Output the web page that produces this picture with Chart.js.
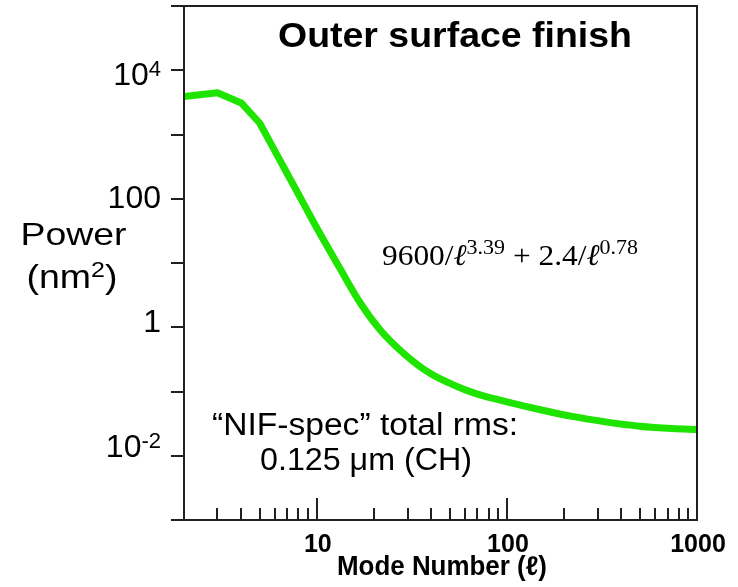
<!DOCTYPE html>
<html><head><meta charset="utf-8">
<script src="https://cdn.jsdelivr.net/npm/chart.js@4.4.1/dist/chart.umd.min.js"></script>
<style>html,body{margin:0;padding:0;background:#fff;}canvas{display:block;}</style>
</head><body>
<canvas id="c" width="738" height="587"></canvas>
<script>
// ---- data ----
const modes = [2, 3, 4, 5, 6, 7, 8, 9, 10, 13.4, 17, 21.6, 28.7, 39.6, 54.6, 70, 100, 150, 220, 330, 500, 740, 1000];
const power = [3900, 4470, 3100, 1510, 560, 243, 118, 62, 35, 7.7, 2.34, 0.90, 0.39, 0.19, 0.12, 0.091, 0.069, 0.052, 0.041, 0.0337, 0.0288, 0.0265, 0.0257];
const steepCount = 7; // first points joined by straight segments (l = 2 .. 8)
const yTickValues = [1e4, 100, 1, 1e-2];
const yTickBases = ['10', '100', '1', '10'];
const yTickExps = ['4', '', '', '-2'];
const xTickValues = [10, 100, 1000];
const xTickLabels = ['10', '100', '1000'];
const titleText = 'Outer surface finish';
const xTitleText = 'Mode Number (\u2113)';
const noteLines = ['\u201CNIF-spec\u201D total rms:', '0.125 \u03BCm (CH)'];

// ---- layout/style ----
const AXIS = '#231f20';
const GREEN = 'rgb(30,228,0)';
const SANS = '"Liberation Sans", Arial, sans-serif';
const SERIF = '"Liberation Serif", "Times New Roman", serif';
const yLabelDy = [15, 9, 5, 1];

function fitText(ctx, text, font, cx, baseline, width) {
  ctx.save();
  ctx.font = font;
  const w = ctx.measureText(text).width;
  ctx.translate(cx, baseline);
  ctx.scale(width / w, 1);
  ctx.textAlign = 'center';
  ctx.textBaseline = 'alphabetic';
  ctx.fillText(text, 0, 0);
  ctx.restore();
}

const decor = {
  id: 'decor',
  beforeDraw(chart) {
    const ctx = chart.ctx;
    ctx.save();
    ctx.fillStyle = '#fff';
    ctx.fillRect(0, 0, chart.width, chart.height);
    ctx.restore();
  },
  afterDraw(chart) {
    const ctx = chart.ctx;
    const xs = chart.scales.x, ys = chart.scales.y;
    const a = chart.chartArea;
    ctx.save();
    ctx.strokeStyle = AXIS;
    ctx.lineWidth = 2;
    ctx.lineCap = 'butt';
    // frame
    ctx.beginPath();
    ctx.moveTo(a.left, a.top); ctx.lineTo(a.left, a.bottom);
    ctx.moveTo(a.right, a.top - 1); ctx.lineTo(a.right, a.bottom + 1);
    ctx.moveTo(a.left - 13, a.top); ctx.lineTo(a.right + 1, a.top);
    ctx.moveTo(a.left - 13, a.bottom); ctx.lineTo(a.right + 1, a.bottom);
    ctx.stroke();
    // y ticks (outward)
    ctx.beginPath();
    for (let e = -3; e <= 5; e++) {
      const py = Math.round(ys.getPixelForValue(Math.pow(10, e)));
      ctx.moveTo(a.left - 13, py); ctx.lineTo(a.left, py);
    }
    ctx.stroke();
    // x ticks (inward)
    ctx.beginPath();
    for (const d of [1, 10, 100]) {
      for (let m = 1; m <= 9; m++) {
        const v = m * d;
        if (v <= 2 || v >= 1000) continue;
        const px = Math.round(xs.getPixelForValue(v));
        const len = (m === 1) ? 22 : 12;
        ctx.moveTo(px, a.bottom); ctx.lineTo(px, a.bottom - len);
      }
    }
    ctx.stroke();

    ctx.fillStyle = '#000';
    // y tick labels
    yTickValues.forEach((v, i) => {
      const py = ys.getPixelForValue(v) + yLabelDy[i];
      ctx.font = '32px ' + SANS;
      const wb = ctx.measureText(yTickBases[i]).width;
      ctx.font = '22px ' + SANS;
      const we = yTickExps[i] ? ctx.measureText(yTickExps[i]).width : 0;
      const x0 = 161 - wb - we;
      ctx.textAlign = 'left';
      ctx.textBaseline = 'alphabetic';
      ctx.font = '32px ' + SANS;
      ctx.fillText(yTickBases[i], x0, py);
      if (yTickExps[i]) {
        ctx.font = '22px ' + SANS;
        ctx.fillText(yTickExps[i], x0 + wb, py - 9);
      }
    });
    // x tick labels
    ctx.font = 'bold 25px ' + SANS;
    ctx.textAlign = 'center';
    ctx.textBaseline = 'alphabetic';
    xTickValues.forEach((v, i) => {
      ctx.fillText(xTickLabels[i], xs.getPixelForValue(v) + 1, 552);
    });
    // axis titles
    fitText(ctx, xTitleText, 'bold 27px ' + SANS, 442, 575, 210);
    fitText(ctx, 'Power', '32px ' + SANS, 73.5, 245, 106);
    // (nm^2)
    {
      ctx.save();
      ctx.textAlign = 'left';
      ctx.font = '33px ' + SANS;
      const w1 = ctx.measureText('(nm').width;
      const w3 = ctx.measureText(')').width;
      ctx.font = '22px ' + SANS;
      const w2 = ctx.measureText('2').width;
      const tot = w1 + w2 + w3;
      const sx = 91 / tot;
      ctx.translate(72 - 45.5, 288);
      ctx.scale(sx, 1);
      ctx.font = '33px ' + SANS;
      ctx.fillText('(nm', 0, 0);
      ctx.fillText(')', w1 + w2, 0);
      ctx.font = '22px ' + SANS;
      ctx.fillText('2', w1, -11);
      ctx.restore();
    }
    // title
    fitText(ctx, titleText, 'bold 35px ' + SANS, 455, 47, 354);
    // note
    fitText(ctx, noteLines[0], '31px ' + SANS, 365, 435, 306);
    fitText(ctx, noteLines[1], '31px ' + SANS, 366, 470, 212);
    // formula
    {
      const parts = [
        ['9600/', '30px ' + SERIF, 0],
        ['\u2113', 'italic 30px ' + SERIF, 0],
        ['3.39', '21px ' + SERIF, -11],
        [' + 2.4/', '30px ' + SERIF, 0],
        ['\u2113', 'italic 30px ' + SERIF, 0],
        ['0.78', '21px ' + SERIF, -11]
      ];
      let tot = 0;
      const ws = parts.map(p => { ctx.font = p[1]; const w = ctx.measureText(p[0]).width; tot += w; return w; });
      ctx.save();
      ctx.translate(382, 265);
      ctx.scale(256 / tot, 1);
      ctx.textAlign = 'left';
      let x = 0;
      parts.forEach((p, i) => { ctx.font = p[1]; ctx.fillText(p[0], x, p[2]); x += ws[i]; });
      ctx.restore();
    }
    ctx.restore();
  }
};

const pts = modes.map((m, i) => ({ x: m, y: power[i] }));
const lineStyle = { showLine: true, borderColor: GREEN, borderWidth: 7, pointRadius: 0, borderJoinStyle: 'round', borderCapStyle: 'round' };

new Chart(document.getElementById('c'), {
  type: 'scatter',
  data: {
    datasets: [
      Object.assign({ data: pts.slice(0, steepCount), tension: 0 }, lineStyle),
      Object.assign({ data: pts.slice(steepCount - 1), cubicInterpolationMode: 'monotone' }, lineStyle)
    ]
  },
  options: {
    responsive: false,
    animation: false,
    layout: { padding: { left: 184, right: 41, top: 6, bottom: 67 } },
    plugins: { legend: { display: false }, tooltip: { enabled: false } },
    scales: {
      x: { type: 'logarithmic', min: 2, max: 1000, display: false },
      y: { type: 'logarithmic', min: 1e-3, max: 1e5, display: false }
    }
  },
  plugins: [decor]
});
</script>
</body></html>
